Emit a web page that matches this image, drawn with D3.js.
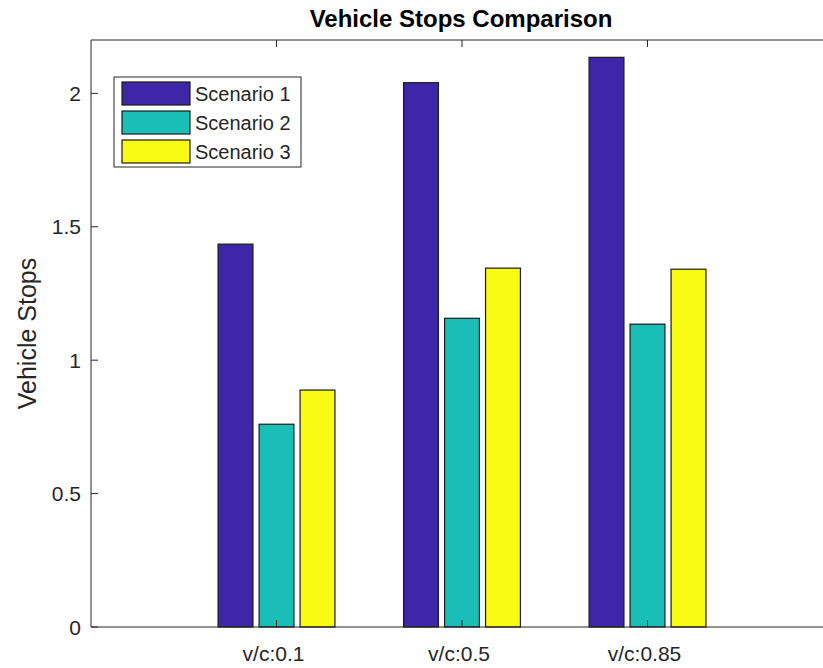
<!DOCTYPE html>
<html>
<head>
<meta charset="utf-8">
<script src="https://cdn.jsdelivr.net/npm/d3@7"></script>
<style>
  body { margin: 0; background: #fff; overflow: hidden; }
  text { font-family: "Liberation Sans", Arial, Helvetica, sans-serif; fill: #262626; }
</style>
</head>
<body>
<div id="chart"></div>
<script>
// chart data
const categories = ["v/c:0.1", "v/c:0.5", "v/c:0.85"];
const seriesNames = ["Scenario 1", "Scenario 2", "Scenario 3"];
const scenario1 = [1.435, 2.04, 2.135];
const scenario2 = [0.76, 1.157, 1.135];
const scenario3 = [0.888, 1.345, 1.341];
const yTicks = [0, 0.5, 1, 1.5, 2];
const colors = ["#3e26a8", "#19bfb7", "#f9fb15"];

const width = 823;
const height = 668;
const margin = { top: 40, left: 91, bottom: 41 };

const svg = d3.select("#chart")
    .append("svg")
    .attr("width", width)
    .attr("height", height);

// x in category units, xlim [0, 4] like the original (right edge falls off the page)
const x = d3.scaleLinear().domain([0, 4]).range([margin.left, 833]);
const y = d3.scaleLinear().domain([0, 2.2]).range([height - margin.bottom, margin.top]);

const series = [scenario1, scenario2, scenario3];
const barW = 0.188;
const step = 0.221;

// bars
series.forEach((vals, si) => {
    svg.append("g")
        .selectAll("rect")
        .data(vals)
        .join("rect")
        .attr("x", (d, i) => x(i + 1 + (si - 1) * step - barW / 2))
        .attr("y", d => y(d))
        .attr("width", x(barW) - x(0))
        .attr("height", d => y(0) - y(d))
        .attr("fill", colors[si])
        .attr("stroke", "#1a1a1a")
        .attr("stroke-width", 1.2);
});

// axes box
const x0 = x(0), x1 = x(4), yb = y(0), yt = y(2.2);
svg.append("path")
    .attr("d", `M${x0},${yt}H${x1}M${x0},${yt}V${yb}H${x1}`)
    .attr("fill", "none")
    .attr("stroke", "#262626")
    .attr("stroke-width", 1);

// y ticks (inward) and labels
const yg = svg.append("g");
yg.selectAll("line")
    .data(yTicks)
    .join("line")
    .attr("x1", x0).attr("x2", x0 + 7)
    .attr("y1", d => y(d)).attr("y2", d => y(d))
    .attr("stroke", "#262626");
yg.selectAll("text")
    .data(yTicks)
    .join("text")
    .attr("x", x0 - 10)
    .attr("y", d => y(d))
    .attr("dy", "0.36em")
    .attr("text-anchor", "end")
    .attr("font-size", 21)
    .text(d => d3.format("")(d));

// x ticks (inward, top and bottom) and labels
const xg = svg.append("g");
xg.selectAll("line.b")
    .data(categories)
    .join("line")
    .attr("class", "b")
    .attr("x1", (d, i) => x(i + 1)).attr("x2", (d, i) => x(i + 1))
    .attr("y1", yb).attr("y2", yb - 7)
    .attr("stroke", "#262626");
xg.selectAll("line.t")
    .data(categories)
    .join("line")
    .attr("class", "t")
    .attr("x1", (d, i) => x(i + 1)).attr("x2", (d, i) => x(i + 1))
    .attr("y1", yt).attr("y2", yt + 7)
    .attr("stroke", "#262626");
xg.selectAll("text")
    .data(categories)
    .join("text")
    .attr("x", (d, i) => x(i + 1) - 3)
    .attr("y", 661)
    .attr("text-anchor", "middle")
    .attr("font-size", 21)
    .text(d => d);

// title
svg.append("text")
    .attr("x", 461)
    .attr("y", 27)
    .attr("text-anchor", "middle")
    .attr("font-size", 24)
    .attr("font-weight", "bold")
    .style("fill", "#000")
    .text("Vehicle Stops Comparison");

// y label
svg.append("text")
    .attr("transform", `translate(36,${(yt + yb) / 2}) rotate(-90)`)
    .attr("text-anchor", "middle")
    .attr("font-size", 25)
    .text("Vehicle Stops");

// legend
const legend = svg.append("g").attr("transform", "translate(114,77)");
legend.append("rect")
    .attr("width", 187).attr("height", 90)
    .attr("fill", "#fff")
    .attr("stroke", "#262626");
const items = legend.selectAll("g")
    .data(seriesNames)
    .join("g")
    .attr("transform", (d, i) => `translate(8,${5 + i * 29})`);
items.append("rect")
    .attr("width", 68).attr("height", 23)
    .attr("fill", (d, i) => colors[i])
    .attr("stroke", "#1a1a1a")
    .attr("stroke-width", 1.2);
items.append("text")
    .attr("x", 73)
    .attr("y", 12)
    .attr("dy", "0.36em")
    .attr("font-size", 20)
    .text(d => d);
</script>
</body>
</html>
